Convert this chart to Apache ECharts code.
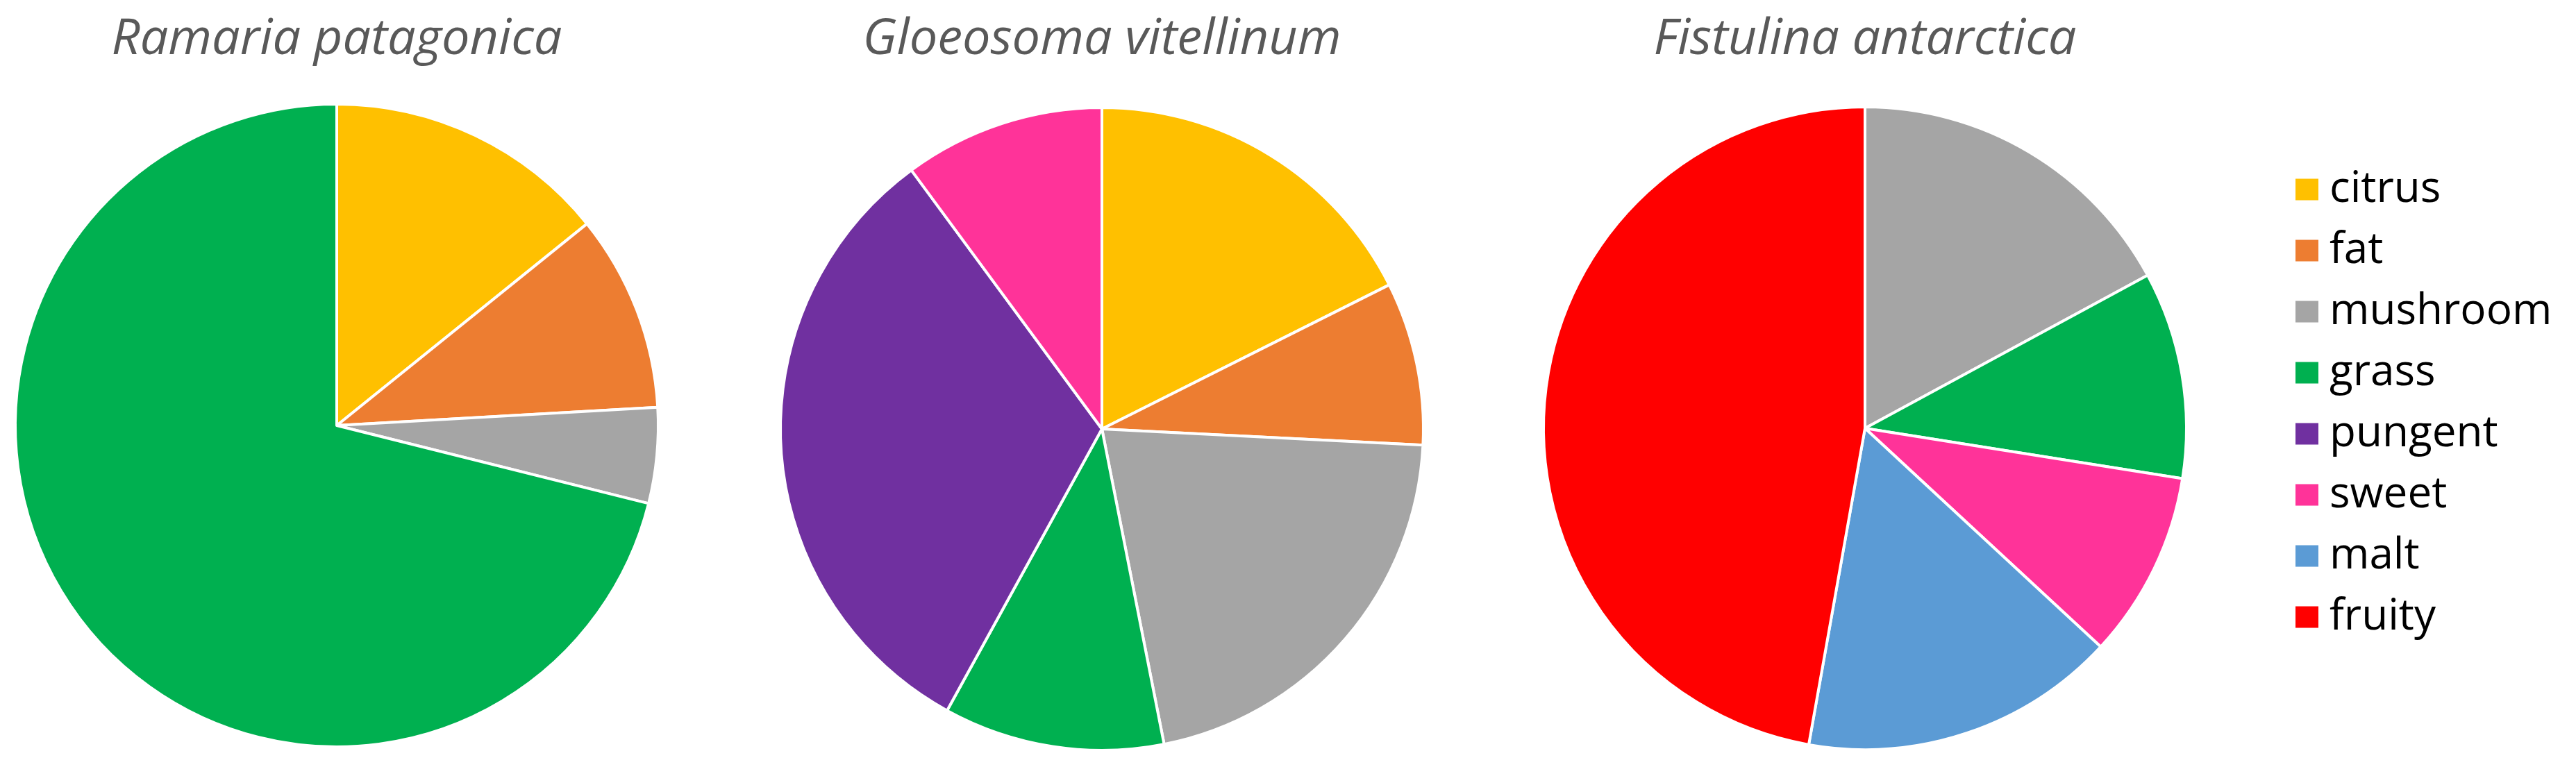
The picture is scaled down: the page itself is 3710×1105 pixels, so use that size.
<!DOCTYPE html>
<html>
<head>
<meta charset="utf-8">
<script src="https://cdn.jsdelivr.net/npm/echarts@6/dist/echarts.min.js"></script>
<style>
  html, body { margin: 0; padding: 0; background: #fff; }
  #chart { width: 3710px; height: 1105px; }
</style>
</head>
<body>
<div id="chart"></div>
<script>
// odour categories, in legend / slice order
const categories = ["citrus", "fat", "mushroom", "grass", "pungent", "sweet", "malt", "fruity"];
const catColors = ["#FFC000", "#ED7D31", "#A5A5A5", "#00B050", "#7030A0", "#FF3399", "#5B9BD5", "#FF0000"];

// share of each category (%) per species, 0 = not present
const species = ["Ramaria patagonica", "Gloeosoma vitellinum", "Fistulina antarctica"];
const ramariaValues = [14.2, 9.9, 4.8, 71.1, 0, 0, 0, 0];
const gloeosomaValues = [17.6, 8.2, 21.1, 11.1, 31.9, 10.1, 0, 0];
const fistulinaValues = [0, 0, 17.1, 10.4, 0, 9.4, 15.9, 47.2];

const pieCenters = [[485, 613], [1587, 618], [2686, 617]];
const pieRadius = 463;
const titleY = 57;

function pieData(values) {
  const out = [];
  for (let i = 0; i < values.length; i++) {
    if (values[i] > 0) {
      out.push({ name: categories[i], value: values[i], itemStyle: { color: catColors[i] } });
    }
  }
  return out;
}

const allValues = [ramariaValues, gloeosomaValues, fistulinaValues];
const series = [];
const titles = [];
for (let s = 0; s < species.length; s++) {
  series.push({
    name: species[s],
    type: "pie",
    center: pieCenters[s],
    radius: pieRadius,
    startAngle: 90,
    clockwise: true,
    label: { show: false },
    labelLine: { show: false },
    emphasis: { disabled: true },
    animation: false,
    itemStyle: { borderColor: "#fff", borderWidth: 4 },
    data: pieData(allValues[s]),
  });
  titles.push({
    type: "text",
    x: pieCenters[s][0],
    y: titleY,
    style: {
      text: species[s],
      fill: "#595959",
      font: "italic 72px 'Open Sans'",
      textAlign: "center",
      textVerticalAlign: "middle",
    },
  });
}

const chartObj = echarts.init(document.getElementById("chart"));
chartObj.setOption({
  backgroundColor: "#fff",
  animation: false,
  legend: {
    orient: "vertical",
    left: 3299,
    top: 237,
    itemWidth: 35,
    itemHeight: 33,
    itemGap: 26,
    icon: "rect",
    data: categories,
    selectedMode: false,
    textStyle: {
      fontFamily: "Open Sans",
      fontSize: 62,
      lineHeight: 62,
      color: "#000",
      padding: [0, 0, 0, 10],
    },
  },
  graphic: titles,
  series: series,
});
</script>
</body>
</html>
